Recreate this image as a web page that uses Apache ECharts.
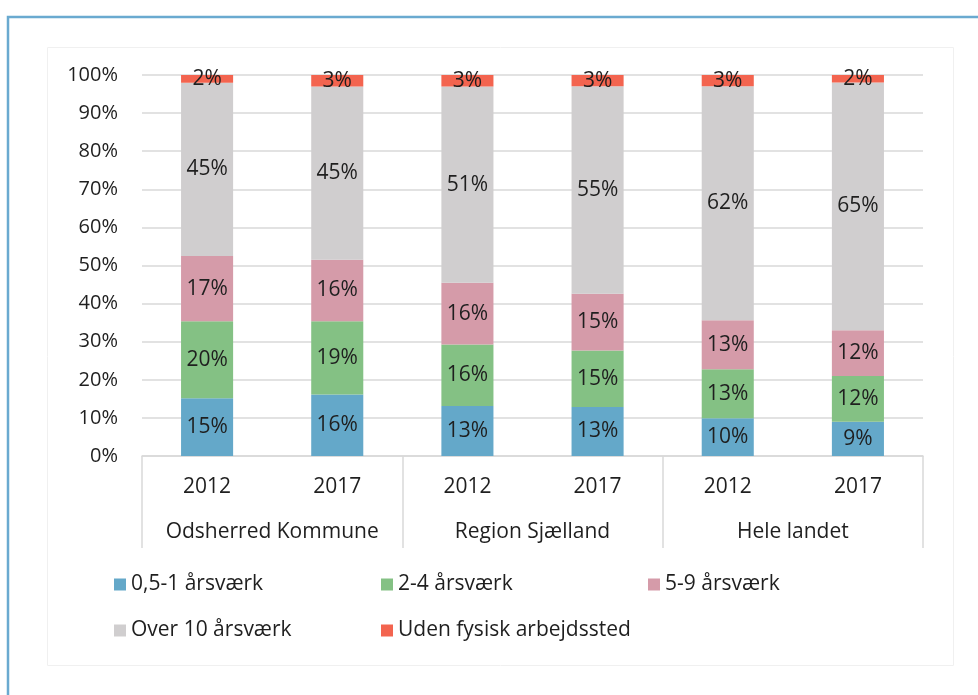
<!DOCTYPE html>
<html>
<head>
<meta charset="utf-8">
<script src="https://cdn.jsdelivr.net/npm/echarts@6/dist/echarts.min.js"></script>
<style>
  html, body { margin: 0; padding: 0; background: #ffffff; }
  #chart { width: 978px; height: 695px; }
</style>
</head>
<body>
<div id="chart"></div>
<script>
// kategorier
const years = ['2012', '2017', '2012', '2017', '2012', '2017'];
const groups = ['Odsherred Kommune', 'Region Sjælland', 'Hele landet'];

// andele i procent (som vist i etiketterne)
const s05_1 = [15, 16, 13, 13, 10, 9];
const s2_4 = [20, 19, 16, 15, 13, 12];
const s5_9 = [17, 16, 16, 15, 13, 12];
const sOver10 = [45, 45, 51, 55, 62, 65];
const sUden = [2, 3, 3, 3, 3, 2];

const names = ['0,5-1 årsværk', '2-4 årsværk', '5-9 årsværk', 'Over 10 årsværk', 'Uden fysisk arbejdssted'];
const colors = ['#64a8c9', '#84c184', '#d59ba9', '#d0cecf', '#f3644f'];
const allSeries = [s05_1, s2_4, s5_9, sOver10, sUden];

// 100% stablet: normaliser pr. søjle
const totals = years.map((_, i) => allSeries.reduce((a, s) => a + s[i], 0));

const FONT = 'Open Sans';
const TXT = '#1f1f1f';

const chart = echarts.init(document.getElementById('chart'));

const legendPos = [
  { left: 114, top: 574 },
  { left: 381, top: 574 },
  { left: 648, top: 574 },
  { left: 114, top: 620 },
  { left: 381, top: 620 }
];

const option = {
  animation: false,
  textStyle: { fontFamily: FONT },
  grid: { left: 142, right: 55, top: 75, bottom: 239 },
  legend: names.map((n, i) => ({
    data: [n],
    left: legendPos[i].left,
    top: legendPos[i].top,
    padding: 0,
    itemWidth: 12,
    itemHeight: 12,
    icon: 'rect',
    selectedMode: false,
    textStyle: { fontFamily: FONT, fontSize: 21, color: TXT }
  })),
  xAxis: [
    {
      type: 'category',
      data: years,
      axisLine: { show: true, lineStyle: { color: '#d9d9d9', width: 1.5 } },
      axisTick: { show: false },
      axisLabel: { margin: 21, fontSize: 21, color: TXT, fontFamily: FONT }
    },
    {
      type: 'category',
      data: groups,
      position: 'bottom',
      axisLine: { show: false },
      axisTick: { show: true, interval: 0, length: 92, lineStyle: { color: '#d9d9d9', width: 1.5 } },
      axisLabel: { interval: 0, hideOverlap: false, margin: 66, fontSize: 21, color: TXT, fontFamily: FONT }
    }
  ],
  yAxis: {
    type: 'value',
    min: 0,
    max: 100,
    interval: 10,
    axisLine: { show: false },
    axisTick: { show: false },
    axisLabel: { formatter: '{value}%', margin: 24, fontSize: 20, color: TXT, fontFamily: FONT },
    splitLine: { lineStyle: { color: '#d9d9d9', width: 1.5 } }
  },
  series: allSeries.map((s, k) => ({
    name: names[k],
    type: 'bar',
    stack: 'total',
    xAxisIndex: 0,
    barWidth: '40%',
    itemStyle: { color: colors[k] },
    label: {
      show: true,
      position: 'inside',
      fontSize: 21,
      color: TXT,
      fontFamily: FONT,
      formatter: p => s[p.dataIndex] + '%'
    },
    data: s.map((v, i) => v / totals[i] * 100)
  })),
  graphic: [
    {
      type: 'rect',
      shape: { x: 47.5, y: 47.5, width: 906, height: 618 },
      style: { fill: 'none', stroke: '#f0f0f0', lineWidth: 1 },
      silent: true
    },
    {
      type: 'polyline',
      shape: { points: [[8, 695], [8, 17], [978, 17]] },
      style: { fill: 'none', stroke: '#6aaad0', lineWidth: 2.5 },
      silent: true
    }
  ]
};

chart.setOption(option);
</script>
</body>
</html>
